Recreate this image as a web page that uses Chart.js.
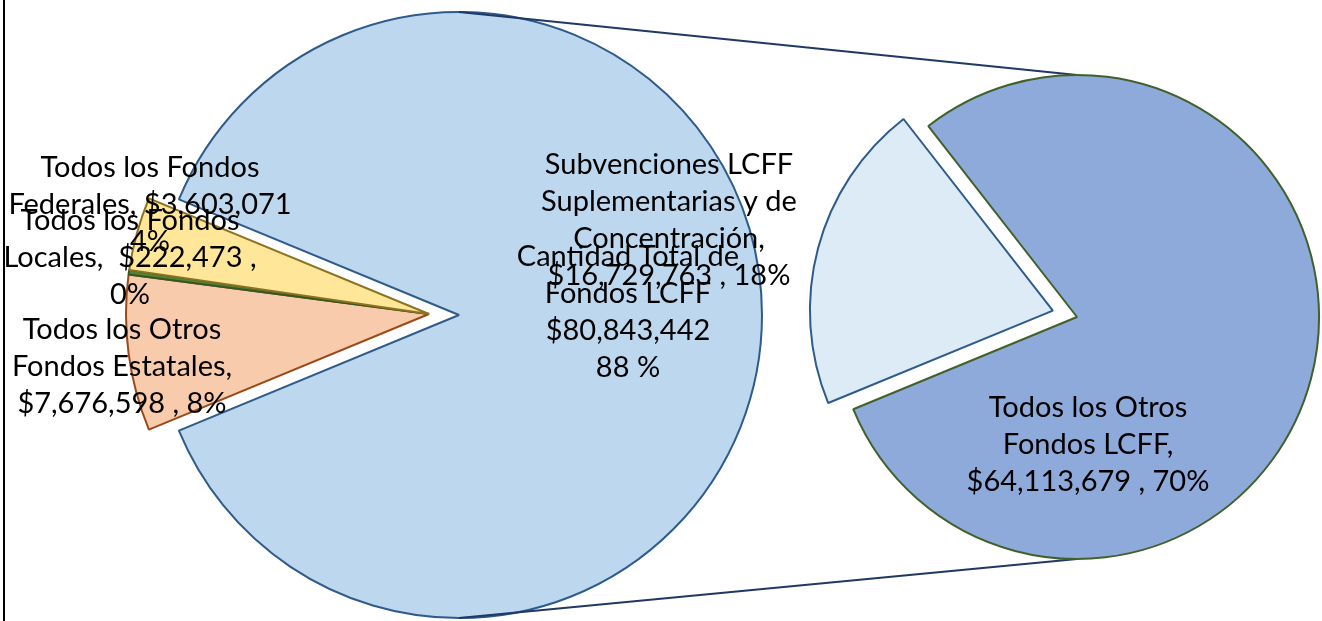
<!DOCTYPE html>
<html>
<head>
<meta charset="utf-8">
<script src="https://cdn.jsdelivr.net/npm/chart.js@4.4.1/dist/chart.umd.min.js"></script>
<style>
html, body { margin: 0; padding: 0; background: #fff; }
#wrap { position: relative; width: 1322px; height: 621px; overflow: hidden; }
#wrap canvas { position: absolute; left: 0; top: 0; }
#edge { position: absolute; left: 3px; top: 0; width: 2px; height: 621px; background: #000; }
</style>
</head>
<body>
<div id="wrap">
  <canvas id="mainBig" width="1322" height="621"></canvas>
  <canvas id="mainSmall" width="1322" height="621"></canvas>
  <canvas id="subPie" width="1322" height="621"></canvas>
  <div id="edge"></div>
</div>
<script>
// main pie: LCFF total + the other fund sources
const mainLabels = ["Cantidad Total de Fondos LCFF", "Todos los Otros Fondos Estatales", "Todos los Fondos Locales", "Todos los Fondos Federales"];
const mainValues = [80843442, 7676598, 222473, 3603071];
const mainPct = [88, 8, 0, 4];

// secondary pie: breakdown of LCFF
const subLabels = ["Subvenciones LCFF Suplementarias y de Concentración", "Todos los Otros Fondos LCFF"];
const subValues = [16729763, 64113679];
const subPct = [18, 70];

const mainColors = ["#BDD7EE", "#F8CBAD", "#548235", "#FFE699"];
const mainBorders = ["#2E5B8A", "#9A4A16", "#375623", "#8A7420"];
const subColors = ["#DDEBF7", "#8EAADB"];
const subBorders = ["#2E5B8A", "#41602A"];

function fmt(v) {
    return "$" + v.toLocaleString("en-US");
}

// text lines of each data label, wrapped like the original
const mainLines = [
    ["Cantidad Total de", "Fondos LCFF", fmt(mainValues[0]), mainPct[0] + " %"],
    ["Todos los Otros", "Fondos Estatales,", fmt(mainValues[1]) + " , " + mainPct[1] + "%"],
    ["Todos los Fondos", "Locales,  " + fmt(mainValues[2]) + " ,", mainPct[2] + "%"],
    ["Todos los Fondos", "Federales, " + fmt(mainValues[3]), mainPct[3] + "%"]
];
const subLines = [
    ["Subvenciones LCFF", "Suplementarias y de", "Concentración,", fmt(subValues[0]) + " , " + subPct[0] + "%"],
    ["Todos los Otros", "Fondos LCFF,", fmt(subValues[1]) + " , " + subPct[1] + "%"]
];
// where the labels were dragged to (centre x, first line y)
const mainLabelPos = [[628, 257], [122, 330], [130, 221], [150, 168]];
const subLabelPos = [[669, 165], [1088, 408]];

const FONT = "29px Lato";
const LINE_H = 37;

const mainTotal = mainValues.reduce((a, b) => a + b, 0);
// LCFF slice centred on the right side
const mainRotation = 90 - (mainValues[0] / mainTotal) * 180;

// the main pie is exploded: LCFF slice pulled right, the rest pulled left.
// drawn as two pies of the same data, each showing its own slices
function mainCfg(show, padding) {
    return {
        type: "pie",
        data: {
            labels: mainLabels,
            datasets: [{
                data: mainValues,
                backgroundColor: mainColors.map((c, i) => show(i) ? c : "rgba(0,0,0,0)"),
                borderColor: mainBorders.map((c, i) => show(i) ? c : "rgba(0,0,0,0)"),
                borderWidth: mainValues.map((v, i) => show(i) ? 2 : 0),
                clip: false
            }]
        },
        options: {
            responsive: false,
            animation: false,
            rotation: mainRotation,
            radius: 303,
            layout: { padding: padding },
            plugins: { legend: { display: false }, tooltip: { enabled: false } }
        }
    };
}

let bigChart = null;

const overlay = {
    id: "overlay",
    beforeDatasetsDraw(chart) {
        if (!bigChart) return;
        const ctx = chart.ctx;
        const big = bigChart.getDatasetMeta(0).data[0];
        const sub = chart.getDatasetMeta(0).data[1];
        ctx.save();
        ctx.strokeStyle = "#1F3864";
        ctx.lineWidth = 2;
        ctx.beginPath();
        ctx.moveTo(big.x, big.y - big.outerRadius);
        ctx.lineTo(sub.x, sub.y - sub.outerRadius);
        ctx.moveTo(big.x, big.y + big.outerRadius);
        ctx.lineTo(sub.x, sub.y + sub.outerRadius);
        ctx.stroke();
        ctx.restore();
    },
    afterDraw(chart) {
        const ctx = chart.ctx;
        ctx.save();
        ctx.font = FONT;
        ctx.fillStyle = "#000";
        ctx.textAlign = "center";
        ctx.textBaseline = "middle";
        const order = [3, 2, 1, 0];
        order.forEach(i => {
            mainLines[i].forEach((t, j) => {
                ctx.fillText(t, mainLabelPos[i][0], mainLabelPos[i][1] + j * LINE_H);
            });
        });
        subLines.forEach((lines, i) => {
            lines.forEach((t, j) => {
                ctx.fillText(t, subLabelPos[i][0], subLabelPos[i][1] + j * LINE_H);
            });
        });
        ctx.restore();
    }
};

const subCfg = {
    type: "pie",
    data: {
        labels: subLabels,
        datasets: [{
            data: subValues,
            backgroundColor: subColors,
            borderColor: subBorders,
            borderWidth: 2,
            offset: [100, 0],
            clip: false
        }]
    },
    options: {
        responsive: false,
        animation: false,
        rotation: 247.6,
        radius: 242,
        layout: { padding: { left: 832, right: 0, top: 13, bottom: 0 } },
        plugins: { legend: { display: false }, tooltip: { enabled: false } }
    },
    plugins: [overlay]
};

document.fonts.load(FONT).then(() => {
    bigChart = new Chart(document.getElementById("mainBig"),
        mainCfg(i => i === 0, { left: 0, right: 404, top: 9, bottom: 0 }));
    new Chart(document.getElementById("mainSmall"),
        mainCfg(i => i !== 0, { left: 0, right: 464, top: 7, bottom: 0 }));
    new Chart(document.getElementById("subPie"), subCfg);
});
</script>
</body>
</html>
